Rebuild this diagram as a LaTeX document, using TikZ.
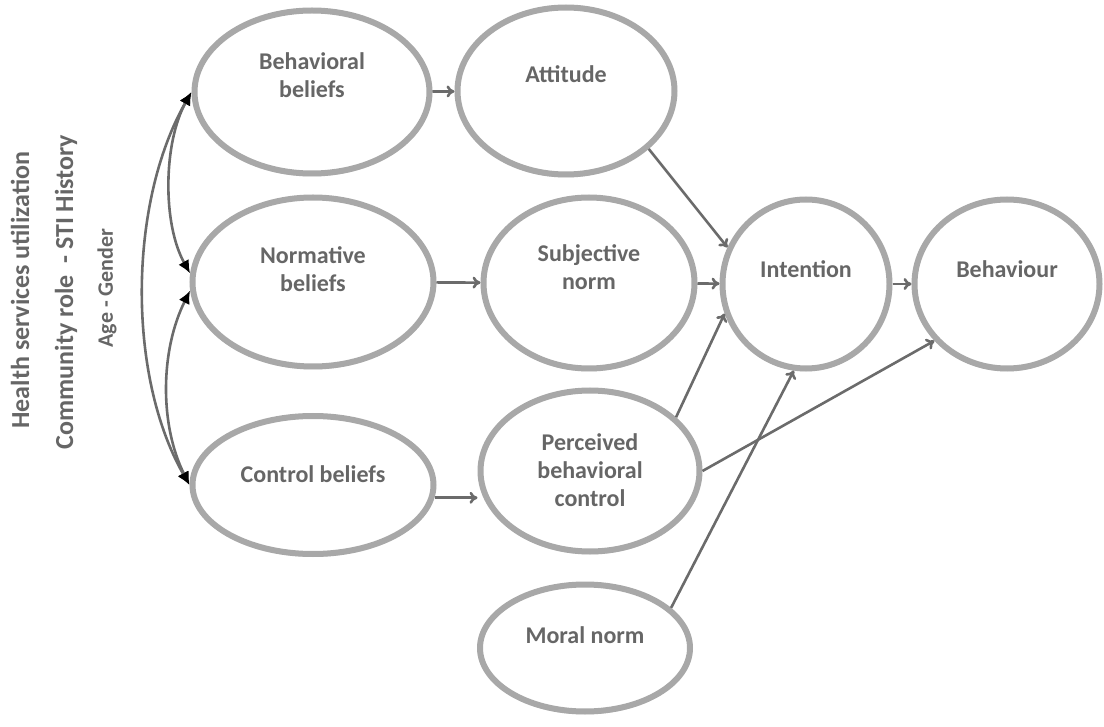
\documentclass[tikz,border=0pt]{standalone}
\usepackage{fontspec}
\setmainfont{Carlito}
\usetikzlibrary{shapes.geometric,arrows.meta,shadows}
\newcommand{\ovt}[2]{\raisebox{#1}[0pt][0pt]{\begin{tabular}{@{}c@{}}#2\end{tabular}}}
\tikzset{
  oval/.style={ellipse, draw=gray!68, line width=6pt, fill=white, inner sep=0pt,
    font=\fontsize{24}{28}\selectfont\bfseries, text=black!60,
    drop shadow={opacity=0.2, shadow xshift=0pt, shadow yshift=-3pt}},
  side/.style={rotate=90, text=black!60},
  arr/.style={draw=black!58, line width=2.6pt, -{To[length=8pt,width=12pt]}},
  link/.style={draw=black!58, line width=2.6pt, {Latex[length=13pt,width=12pt,black]}-{Latex[length=13pt,width=12pt,black]}}
}
\begin{document}
\begin{tikzpicture}[x=1pt,y=-1pt]
\useasboundingbox (0,0) rectangle (1104,727);
% left labels
\node[side, font=\fontsize{26}{30}\selectfont\bfseries] (l1) at (20,290) {Health services utilization};
\node[side, font=\fontsize{26}{30}\selectfont\bfseries] (l2) at (66,292) {Community role \ - STI History};
\node[side, font=\fontsize{22}{26}\selectfont\bfseries] (l3) at (107,288) {Age - Gender};
% ellipses
\node[oval, minimum width=235pt, minimum height=163pt] (bb) at (312,92) {\ovt{8pt}{Behavioral\\beliefs}};
\node[oval, minimum width=217pt, minimum height=167pt] (att) at (566,91) {\ovt{8pt}{Attitude}};
\node[oval, minimum width=241pt, minimum height=169pt] (nb) at (313,282) {\ovt{4pt}{Normative\\beliefs}};
\node[oval, minimum width=211pt, minimum height=171pt] (sn) at (589,283) {\ovt{7pt}{Subjective\\norm}};
\node[oval, minimum width=241pt, minimum height=138pt] (cb) at (313,485) {\ovt{2pt}{Control beliefs}};
\node[oval, minimum width=219pt, minimum height=161pt] (pbc) at (590,471) {\ovt{-8pt}{Perceived\\behavioral\\control}};
\node[oval, minimum width=210pt, minimum height=127pt] (mn) at (585,648) {\ovt{4pt}{Moral norm}};
\node[oval, minimum width=167pt, minimum height=169pt] (int) at (806,284) {\ovt{6pt}{Intention}};
\node[oval, minimum width=185pt, minimum height=169pt] (beh) at (1007,284) {\ovt{6pt}{Behaviour}};
% arrows
\draw[arr] (bb) -- (att);
\draw[arr] (nb) -- (sn);
\draw[arr] (cb.-6) -- (pbc.west |- cb.-6);
\draw[arr] (att.-35) -- (int.155);
\draw[arr] (sn) -- (int);
\draw[arr] (pbc.32) -- (int.200);
\draw[arr] (mn.25) -- (int.262);
\draw[arr] (pbc.east) -- (beh.218);
\draw[arr] (int) -- (beh);
% left curved links
\draw[link] (bb.west) .. controls +(-63,110) and +(-63,-110) .. (cb.west);
\draw[link] (bb.west) .. controls +(-28,50) and +(-28,-50) .. (nb.176);
\draw[link] (nb.184) .. controls +(-30,60) and +(-30,-60) .. (cb.west);
\end{tikzpicture}
\end{document}
